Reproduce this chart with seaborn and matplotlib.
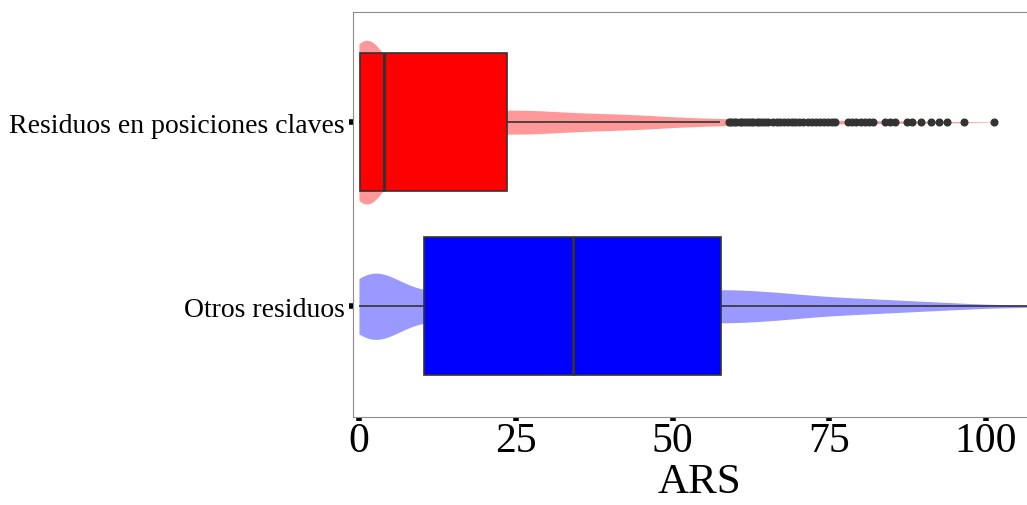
import numpy as np
import pandas as pd
import matplotlib
matplotlib.use("Agg")
import matplotlib.pyplot as plt
import seaborn as sns

GRUPOS = ["Residuos en posiciones claves", "Otros residuos"]
COLORES_CAJA = ["#FF0000", "#0000FF"]
COLORES_VIOLIN = ["#FF9999", "#9999FF"]

CLAVES_ARS = [0, 0.2, 0.75, 1.25, 1.75, 2.25, 2.75, 3.25, 4,
              5, 7.5, 10, 12.5, 15, 17.5, 20, 22.5, 23.6,
              25, 27.5, 30, 32.5, 35, 37.5, 40, 42.5, 45, 47.5, 50, 52.5, 55, 57.5]
CLAVES_N = [250, 35, 40, 40, 38, 35, 30, 28, 20,
            40, 38, 35, 32, 29, 26, 23, 8, 8,
            23, 21, 19, 18, 16, 15, 15, 14, 13, 11, 9, 8, 7, 6]
# the single dots beyond the upper whisker
CLAVES_ATIPICOS = [59.0, 59.3, 59.8, 60.2, 60.7, 61.1, 61.6, 62.0, 62.5, 62.9,
                   63.4, 63.8, 64.3, 64.7, 65.2,
                   66.0, 66.6, 67.2, 67.8, 68.4, 69.0, 69.6, 70.2, 70.8,
                   71.6, 72.2, 72.9, 73.5, 74.2, 74.8, 75.4, 75.9,
                   78.0, 78.6, 79.3, 80.0, 80.7, 81.4, 82.0,
                   83.9, 84.6, 85.4, 87.4, 88.2, 89.6,
                   91.2, 92.5, 93.8, 96.5, 101.3]

OTROS_ARS = [0, 1, 2, 3, 4, 5, 6, 7, 8, 9, 10.3,
             12.7, 15.1, 17.4, 19.8, 22.2, 24.6, 27.0, 29.3, 31.7, 34.1,
             36.5, 38.9, 41.2, 43.6, 46.0, 48.3, 50.7, 53.1, 55.4, 57.8,
             60, 62.5, 65, 67.5, 70, 72.5, 75, 77.5, 80, 82.5, 85, 87.5,
             90, 92.5, 95, 97.5, 100, 102.5, 105, 108]
OTROS_N = [22, 14, 12, 11, 10, 8, 7, 5, 4, 4, 5,
           10, 10, 10, 10, 10, 10, 10, 10, 10, 9,
           10, 10, 10, 10, 10, 10, 10, 10, 10, 10,
           11, 10, 10, 9, 8, 7, 6, 6, 5, 5, 4, 4,
           3, 3, 2, 2, 1, 1, 1, 1]


def armar_tabla():
    claves = np.concatenate([np.repeat(CLAVES_ARS, CLAVES_N), CLAVES_ATIPICOS])
    otros = np.repeat(OTROS_ARS, OTROS_N)
    return pd.DataFrame({
        "grupo": [GRUPOS[0]] * len(claves) + [GRUPOS[1]] * len(otros),
        "ARS": np.concatenate([claves, otros]),
    })


def graficar(df):
    plt.rcParams["font.family"] = ["Liberation Serif", "DejaVu Serif"]
    fig = plt.figure(figsize=(10.27, 5.06), dpi=100)
    ax = fig.add_axes([0.3434, 0.1745, 0.676, 0.8004])

    # violins first, one call per group so each keeps its own width
    for grupo, color, ancho, bw in zip(GRUPOS, COLORES_VIOLIN, [0.89, 0.36], [0.18, 0.128]):
        sns.violinplot(data=df[df.grupo == grupo], x="ARS", y="grupo", order=GRUPOS,
                       orient="h", color=color, saturation=1, inner=None, cut=0,
                       bw_method=bw, density_norm="width", width=ancho,
                       linewidth=0, gridsize=400, ax=ax)

    sns.boxplot(data=df, x="ARS", y="grupo", order=GRUPOS, hue="grupo", hue_order=GRUPOS,
                palette=COLORES_CAJA, saturation=1, width=0.75, orient="h",
                linecolor="#333333", linewidth=1.2, showcaps=False, fliersize=4.8,
                flierprops=dict(marker="o", markerfacecolor="#333333"),
                medianprops=dict(linewidth=2.2), legend=False, ax=ax)

    ax.set_xlim(-1.0, 109.7)
    ax.set_ylim(1.6, -0.6)
    ax.set_xticks([0, 25, 50, 75, 100])
    ax.set_xlabel("ARS", fontsize=31, labelpad=2)
    ax.set_ylabel("")
    ax.tick_params(axis="x", labelsize=30, width=4, length=3, pad=0.5, color="black")
    ax.tick_params(axis="y", labelsize=20, width=4, length=3, pad=2.5, color="black")
    for lado in ["top", "left", "bottom"]:
        ax.spines[lado].set_color("#8c8c8c")
        ax.spines[lado].set_linewidth(0.8)
    ax.spines["right"].set_visible(False)

    fig.savefig("out.png", dpi=100)


def main():
    df = armar_tabla()
    graficar(df)


if __name__ == "__main__":
    main()
